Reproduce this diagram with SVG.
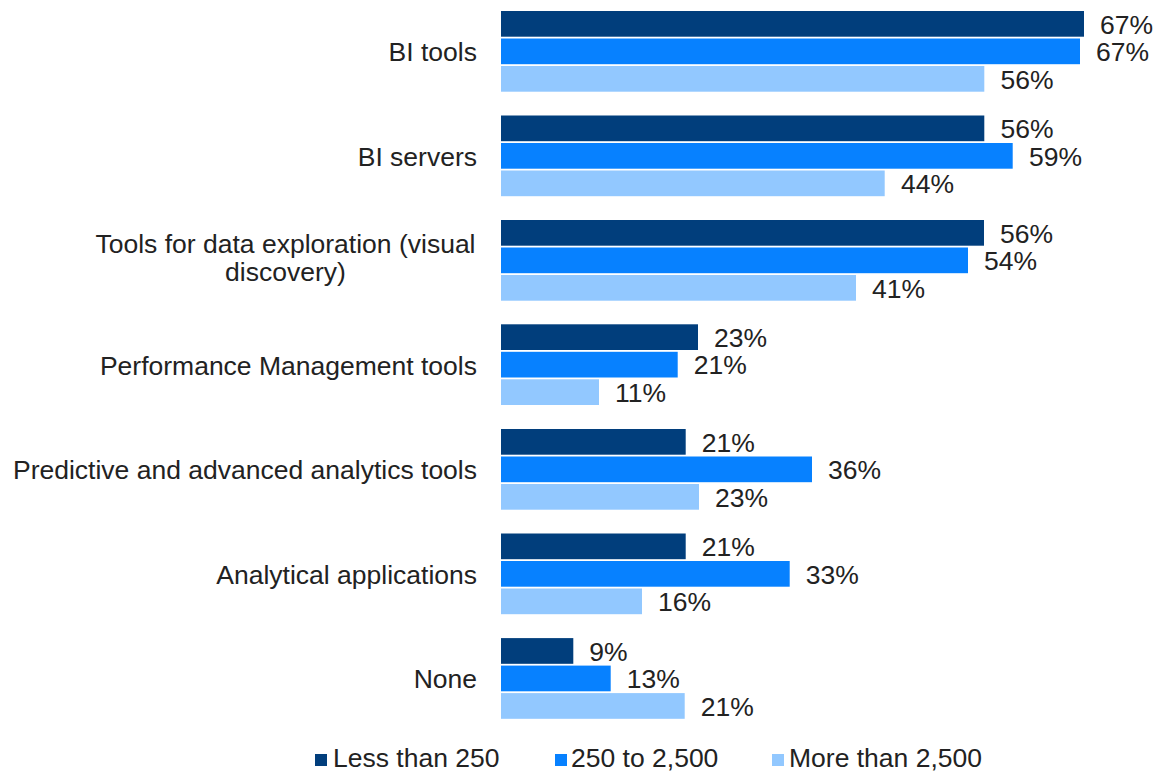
<svg xmlns="http://www.w3.org/2000/svg" width="1161" height="771" viewBox="0 0 1161 771">
<style>
text{font-family:"Liberation Sans",Arial,sans-serif;font-size:26.5px;fill:#222222}
.cat{text-anchor:end}
.c1{fill:#013e7c}
.c2{fill:#0781ff}
.c3{fill:#92c8ff}
</style>
<rect width="1161" height="771" fill="#ffffff"/>
<g id="bi-tools">
<text class="cat" x="477" y="61">BI tools</text>
<rect class="c1" x="501" y="11" width="583" height="25.7"/>
<rect class="c2" x="501" y="38.5" width="579" height="25.7"/>
<rect class="c3" x="501" y="66" width="483.3" height="25.7"/>
<text x="1100" y="33.5">67%</text>
<text x="1096" y="61">67%</text>
<text x="1000.5" y="88.5">56%</text>
</g>
<g id="bi-servers">
<text class="cat" x="477" y="165.5">BI servers</text>
<rect class="c1" x="501" y="115.5" width="483.3" height="25.7"/>
<rect class="c2" x="501" y="143" width="511.7" height="25.7"/>
<rect class="c3" x="501" y="170.5" width="383.7" height="25.7"/>
<text x="1000.5" y="138">56%</text>
<text x="1029" y="165.5">59%</text>
<text x="901" y="193">44%</text>
</g>
<g id="data-exploration">
<text x="285.5" y="253" text-anchor="middle">Tools for data exploration (visual</text>
<text x="285.5" y="281" text-anchor="middle">discovery)</text>
<rect class="c1" x="501" y="220" width="483" height="25.7"/>
<rect class="c2" x="501" y="247.5" width="467" height="25.7"/>
<rect class="c3" x="501" y="275" width="355" height="25.7"/>
<text x="1000" y="242.5">56%</text>
<text x="984" y="270">54%</text>
<text x="872" y="297.5">41%</text>
</g>
<g id="performance">
<text class="cat" x="477" y="374.5">Performance Management tools</text>
<rect class="c1" x="501" y="324.3" width="197" height="25.7"/>
<rect class="c2" x="501" y="351.8" width="176.7" height="25.7"/>
<rect class="c3" x="501" y="379.3" width="98" height="25.7"/>
<text x="714" y="346.8">23%</text>
<text x="693.7" y="374.3">21%</text>
<text x="615" y="401.8">11%</text>
</g>
<g id="predictive">
<text class="cat" x="477" y="479">Predictive and advanced analytics tools</text>
<rect class="c1" x="501" y="429" width="184.7" height="25.7"/>
<rect class="c2" x="501" y="456.5" width="311" height="25.7"/>
<rect class="c3" x="501" y="484" width="198" height="25.7"/>
<text x="701.7" y="451.5">21%</text>
<text x="828" y="479">36%</text>
<text x="715" y="506.5">23%</text>
</g>
<g id="analytical">
<text class="cat" x="477" y="583.5">Analytical applications</text>
<rect class="c1" x="501" y="533.5" width="184.7" height="25.7"/>
<rect class="c2" x="501" y="561" width="288.7" height="25.7"/>
<rect class="c3" x="501" y="588.5" width="141" height="25.7"/>
<text x="701.7" y="556">21%</text>
<text x="805.7" y="583.5">33%</text>
<text x="658" y="611">16%</text>
</g>
<g id="none">
<text class="cat" x="477" y="688">None</text>
<rect class="c1" x="501" y="638.1" width="72.3" height="25.7"/>
<rect class="c2" x="501" y="665.6" width="109.7" height="25.7"/>
<rect class="c3" x="501" y="693.1" width="183.7" height="25.7"/>
<text x="589.3" y="660.6">9%</text>
<text x="626.7" y="688.1">13%</text>
<text x="700.7" y="715.6">21%</text>
</g>
<g id="legend">
<rect class="c1" x="315" y="754" width="12" height="12"/>
<text x="333" y="767">Less than 250</text>
<rect class="c2" x="555" y="754" width="12" height="12"/>
<text x="571" y="767">250 to 2,500</text>
<rect class="c3" x="772" y="754" width="12" height="12"/>
<text x="789" y="767">More than 2,500</text>
</g>
<g id="connectors"></g>
</svg>
